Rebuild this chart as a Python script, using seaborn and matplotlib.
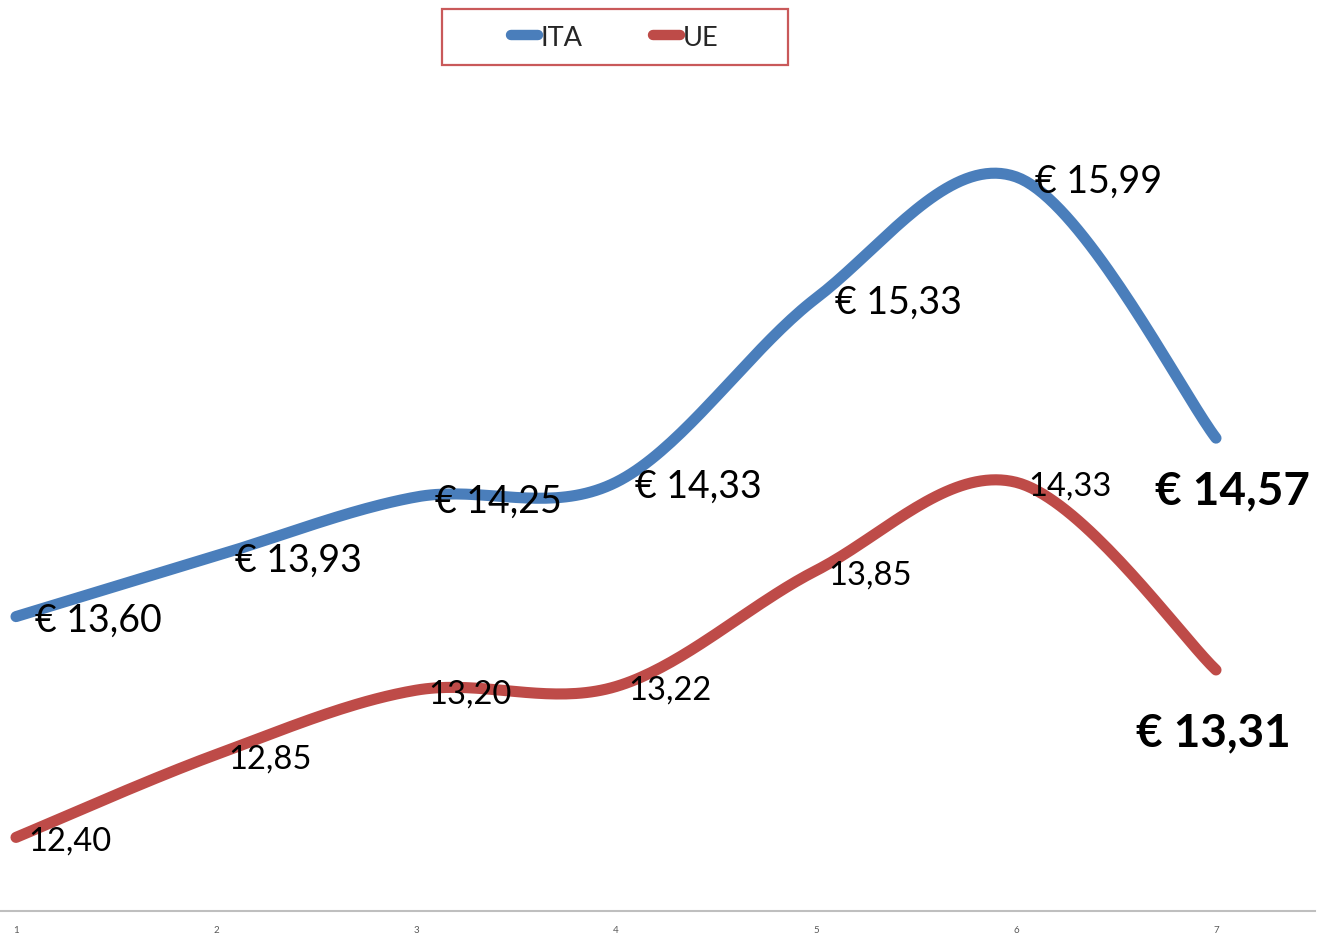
import numpy as np
import pandas as pd
import seaborn as sns
import matplotlib.pyplot as plt
from matplotlib.lines import Line2D
from matplotlib.patches import Rectangle

periods = [1, 2, 3, 4, 5, 6, 7]
ita = [13.60, 13.93, 14.25, 14.33, 15.33, 15.99, 14.57]
ue = [12.40, 12.85, 13.20, 13.22, 13.85, 14.33, 13.31]
series_names = ["ITA", "UE"]
colors = {"ITA": "#4A7EBB", "UE": "#BE4B48"}


def excel_smooth(xs, ys, n=40):
    # bezier through points, control points like Excel's smoothed line
    p = np.column_stack([xs, ys]).astype(float)
    p_ext = np.vstack([p[0], p, p[-1]])
    out = []
    for i in range(len(p) - 1):
        p0, p1, p2, p3 = p_ext[i], p_ext[i + 1], p_ext[i + 2], p_ext[i + 3]
        c1 = p1 + (p2 - p0) / 6
        c2 = p2 - (p3 - p1) / 6
        t = np.linspace(0, 1, n, endpoint=(i == len(p) - 2))[:, None]
        seg = (1 - t) ** 3 * p1 + 3 * (1 - t) ** 2 * t * c1 + 3 * (1 - t) * t ** 2 * c2 + t ** 3 * p2
        out.append(seg)
    return np.vstack(out)


frames = []
for name, vals in zip(series_names, [ita, ue]):
    pts = excel_smooth(periods, vals)
    frames.append(pd.DataFrame({"x": pts[:, 0], "y": pts[:, 1], "series": name}))
df = pd.concat(frames, ignore_index=True)

sns.set_theme(style="white")
plt.rcParams["font.family"] = ["Lato", "DejaVu Sans"]

fig = plt.figure(figsize=(13.25, 9.37), dpi=100)
ax = fig.add_axes([0, 25 / 937, 1315 / 1325, 828 / 937])

sns.lineplot(data=df, x="x", y="y", hue="series", palette=colors, linewidth=8,
             sort=False, estimator=None, units="series", legend=False, ax=ax)
for ln in ax.lines:
    ln.set_solid_capstyle("round")

ax.set_xlim(0.92, 0.92 + 1315 / 200)
ax.set_ylim(12.0, 16.5)
ax.set_xticks(periods)
ax.set_xticklabels([str(p) for p in periods], fontsize=7, color="#595959")
ax.set_yticks([])
ax.tick_params(axis="x", length=0, pad=10)
ax.set_xlabel("")
ax.set_ylabel("")
for s in ["left", "top", "right"]:
    ax.spines[s].set_visible(False)
ax.spines["bottom"].set_color("#BFBFBF")
ax.spines["bottom"].set_linewidth(1.5)

def fmt(v):
    return f"{v:.2f}".replace(".", ",")

# value labels
for i, (x, v) in enumerate(zip(periods, ita)):
    if i == len(ita) - 1:
        ax.annotate("€ " + fmt(v), (x, v), xytext=(12, -37.5), textcoords="offset points",
                    ha="center", va="center", fontsize=33, fontweight="bold", color="black")
    else:
        ax.annotate("€ " + fmt(v), (x, v), xytext=(14, -2.5), textcoords="offset points",
                    ha="left", va="center", fontsize=27, color="black")
for i, (x, v) in enumerate(zip(periods, ue)):
    if i == len(ue) - 1:
        ax.annotate("€ " + fmt(v), (x, v), xytext=(-2, -45), textcoords="offset points",
                    ha="center", va="center", fontsize=33, fontweight="bold", color="black")
    else:
        ax.annotate(fmt(v), (x, v), xytext=(8.5, -2.5), textcoords="offset points",
                    ha="left", va="center", fontsize=23.5, color="black")

# legend
handles = [Line2D([0], [0], color=colors[n], lw=7.5, solid_capstyle="round") for n in series_names]
fig.legend(handles, series_names, loc="center", bbox_to_anchor=(615 / 1325, 1 - 38 / 937),
           ncol=2, frameon=False, fontsize=19.5, handlelength=1.0, handletextpad=0.1,
           columnspacing=2.6)
fig.patches.append(Rectangle((442 / 1325, 1 - 66 / 937), 346 / 1325, 56 / 937,
                             transform=fig.transFigure, fill=False,
                             edgecolor="#C9595A", linewidth=1.6))

fig.savefig("out.png", dpi=100)
